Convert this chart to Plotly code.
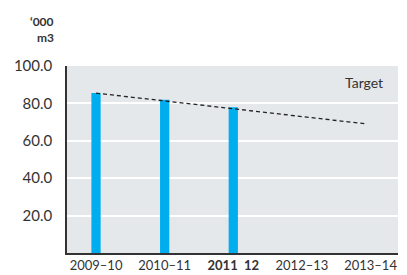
import plotly.graph_objects as go

years = ["2009–10", "2010–11", "<b>2011  12</b>", "2012–13", "2013–14"]
actual = [85.5, 82.0, 78.0]
target_x = [0, 3.95]
target_y = [85.5, 69.0]
y_ticks = [20, 40, 60, 80, 100]
y_tick_text = ["20.0", "40.0", "60.0", "80.0", "100.0"]

font_family = "Lato, 'Open Sans', sans-serif"
txt = "#333333"

fig = go.Figure()
fig.add_trace(go.Bar(
    x=list(range(len(actual))), y=actual, width=0.135,
    marker=dict(color="#00AEEF", line=dict(width=0)),
    showlegend=False, hoverinfo="skip"))
fig.add_trace(go.Scatter(
    x=target_x, y=target_y, mode="lines",
    line=dict(color="#222222", width=1.3, dash="4px,3px"),
    showlegend=False, hoverinfo="skip"))

fig.update_layout(
    width=407, height=275,
    margin=dict(l=67, r=9, t=66, b=22),
    paper_bgcolor="white", plot_bgcolor="#e4e8eb",
    font=dict(family=font_family, size=13, color=txt),
    xaxis=dict(range=[-0.423, 4.40], tickmode="array",
               tickvals=list(range(len(years))), ticktext=years,
               showgrid=False, zeroline=False, automargin=False,
               showline=True, linecolor="#333333", linewidth=1.5,
               ticks="", tickfont=dict(size=13, color=txt)),
    yaxis=dict(range=[0, 100], tickmode="array", tickvals=y_ticks,
               ticktext=y_tick_text, showgrid=True, gridcolor="white",
               gridwidth=2, zeroline=False, automargin=False,
               showline=True, linecolor="#333333", linewidth=1.5,
               ticks="outside", ticklen=10, tickcolor="rgba(0,0,0,0)",
               tickfont=dict(size=15, color=txt)),
    annotations=[
        dict(text="<b>‘000</b>", xref="paper", yref="paper", x=-0.033, y=1.24,
             xanchor="right", yanchor="middle", showarrow=False,
             font=dict(size=12, color=txt)),
        dict(text="<b>m3</b>", xref="paper", yref="paper", x=-0.033, y=1.15,
             xanchor="right", yanchor="middle", showarrow=False,
             font=dict(size=12, color=txt)),
        dict(text="Target", xref="paper", yref="paper", x=0.96, y=0.91,
             xanchor="right", yanchor="middle", showarrow=False,
             font=dict(size=14, color=txt)),
    ],
)

fig.write_html("out.html", config={"displayModeBar": False},
               post_script="document.body.style.margin='0';document.body.style.overflow='hidden';")
